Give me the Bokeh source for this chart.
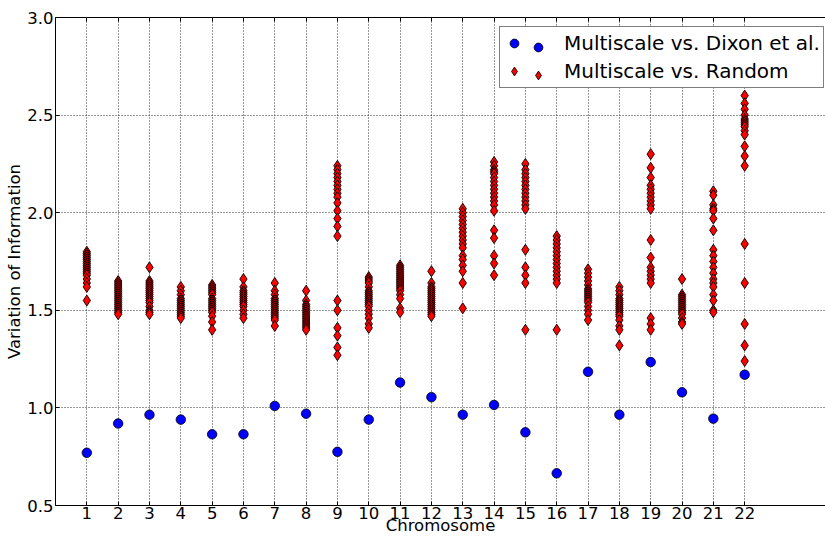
from bokeh.plotting import figure
from bokeh.models import (Range1d, FixedTicker, LinearAxis, Legend, LegendItem,
                          ColumnDataSource, PrintfTickFormatter)
from bokeh.embed import file_html
from bokeh.resources import INLINE

# ---------------- data ----------------
chromosomes = list(range(1, 23))
x_tick_labels = [str(c) for c in chromosomes]
y_ticks = [0.5, 1.0, 1.5, 2.0, 2.5, 3.0]

dixon_vi = [0.77, 0.92, 0.965, 0.94, 0.865, 0.865, 1.01, 0.97, 0.775, 0.94, 1.13,
            1.055, 0.965, 1.015, 0.875, 0.665, 1.185, 0.965, 1.235, 1.08, 0.945, 1.17]

random_chr1 = [1.80, 1.79, 1.78, 1.77, 1.76, 1.75, 1.74, 1.73, 1.72, 1.71, 1.70, 1.69, 1.68, 1.66, 1.64, 1.62, 1.55]
random_chr2 = [1.65, 1.64, 1.63, 1.62, 1.61, 1.60, 1.59, 1.58, 1.57, 1.56, 1.55, 1.54, 1.53, 1.52, 1.51, 1.50, 1.49, 1.48]
random_chr3 = [1.72, 1.65, 1.64, 1.63, 1.62, 1.61, 1.60, 1.59, 1.58, 1.57, 1.56, 1.55, 1.54, 1.52, 1.50, 1.49, 1.48]
random_chr4 = [1.62, 1.60, 1.58, 1.56, 1.55, 1.54, 1.53, 1.52, 1.51, 1.50, 1.49, 1.48, 1.47, 1.46]
random_chr5 = [1.63, 1.62, 1.61, 1.60, 1.59, 1.58, 1.56, 1.55, 1.54, 1.53, 1.52, 1.51, 1.50, 1.49, 1.47, 1.44, 1.40]
random_chr6 = [1.66, 1.62, 1.60, 1.59, 1.58, 1.57, 1.56, 1.55, 1.54, 1.53, 1.52, 1.50, 1.48, 1.46]
random_chr7 = [1.64, 1.60, 1.58, 1.56, 1.55, 1.54, 1.53, 1.52, 1.51, 1.50, 1.49, 1.48, 1.47, 1.46, 1.45, 1.42]
random_chr8 = [1.60, 1.55, 1.53, 1.52, 1.51, 1.50, 1.49, 1.48, 1.47, 1.46, 1.45, 1.44, 1.43, 1.42, 1.41, 1.40]
random_chr9 = [2.24, 2.22, 2.20, 2.18, 2.16, 2.14, 2.12, 2.10, 2.08, 2.05, 2.01, 1.97, 1.93, 1.88,
               1.55, 1.50, 1.41, 1.37, 1.31, 1.27]
random_chr10 = [1.67, 1.66, 1.65, 1.64, 1.62, 1.60, 1.59, 1.58, 1.57, 1.56, 1.55, 1.54, 1.53, 1.52, 1.50, 1.48, 1.46, 1.43, 1.41]
random_chr11 = [1.73, 1.72, 1.71, 1.70, 1.69, 1.68, 1.67, 1.66, 1.65, 1.64, 1.63, 1.62, 1.61, 1.60, 1.58, 1.56, 1.51, 1.49]
random_chr12 = [1.70, 1.64, 1.62, 1.61, 1.60, 1.59, 1.58, 1.57, 1.56, 1.55, 1.54, 1.53, 1.52, 1.51, 1.50, 1.49, 1.48, 1.47]
random_chr13 = [2.02, 2.00, 1.98, 1.96, 1.94, 1.92, 1.90, 1.88, 1.86, 1.84, 1.82, 1.78, 1.76, 1.73, 1.70, 1.64, 1.51]
random_chr14 = [2.26, 2.24, 2.22, 2.21, 2.20, 2.18, 2.16, 2.14, 2.12, 2.10, 2.08, 2.06, 2.04, 2.01, 1.91, 1.87, 1.78, 1.74, 1.68]
random_chr15 = [2.25, 2.22, 2.20, 2.18, 2.16, 2.14, 2.12, 2.10, 2.08, 2.06, 2.04, 2.02, 1.81, 1.72, 1.68, 1.64, 1.40]
random_chr16 = [1.88, 1.86, 1.84, 1.82, 1.80, 1.78, 1.76, 1.74, 1.72, 1.70, 1.68, 1.66, 1.64, 1.40]
random_chr17 = [1.71, 1.69, 1.67, 1.65, 1.63, 1.61, 1.60, 1.59, 1.58, 1.57, 1.56, 1.55, 1.54, 1.52, 1.50, 1.48, 1.45]
random_chr18 = [1.62, 1.60, 1.58, 1.56, 1.55, 1.54, 1.53, 1.52, 1.51, 1.50, 1.49, 1.48, 1.47, 1.45, 1.42, 1.40, 1.32]
random_chr19 = [2.30, 2.23, 2.18, 2.14, 2.12, 2.10, 2.08, 2.06, 2.04, 2.02, 1.86, 1.77, 1.72, 1.70, 1.68, 1.66, 1.64, 1.46, 1.43, 1.40]
random_chr20 = [1.66, 1.58, 1.57, 1.56, 1.55, 1.54, 1.53, 1.52, 1.51, 1.50, 1.49, 1.48, 1.46, 1.44, 1.43]
random_chr21 = [2.11, 2.09, 2.04, 2.02, 2.01, 1.97, 1.91, 1.81, 1.78, 1.75, 1.72, 1.69, 1.66, 1.64, 1.62, 1.58, 1.55, 1.50, 1.49]
random_chr22 = [2.60, 2.56, 2.53, 2.50, 2.48, 2.47, 2.46, 2.45, 2.44, 2.42, 2.40, 2.34, 2.29, 2.24, 1.84, 1.64, 1.43, 1.32, 1.24]

random_vi = [random_chr1, random_chr2, random_chr3, random_chr4, random_chr5, random_chr6,
             random_chr7, random_chr8, random_chr9, random_chr10, random_chr11, random_chr12,
             random_chr13, random_chr14, random_chr15, random_chr16, random_chr17, random_chr18,
             random_chr19, random_chr20, random_chr21, random_chr22]

rand_x, rand_y = [], []
for c, vals in zip(chromosomes, random_vi):
    rand_x.extend([c] * len(vals))
    rand_y.extend(vals)

FONT = "DejaVu Sans"

# ---------------- figure ----------------
p = figure(width=825, height=537, output_backend="svg", toolbar_location=None,
           x_range=Range1d(0, 24.58), y_range=Range1d(0.5, 3.0),
           min_border_left=55, min_border_right=0, min_border_top=17, min_border_bottom=32)
p.outline_line_color = None
p.background_fill_color = "white"
p.border_fill_color = "white"

# axes
for ax in (p.xaxis[0], p.yaxis[0]):
    ax.axis_line_color = "black"
    ax.axis_line_width = 1
    ax.major_tick_in = 4
    ax.major_tick_out = 0
    ax.minor_tick_line_color = None
    ax.major_label_text_font = FONT
    ax.major_label_text_font_size = "16.5px"
    ax.major_label_text_color = "black"
    ax.axis_label_text_font = FONT
    ax.axis_label_text_font_size = "16.5px"
    ax.axis_label_text_font_style = "normal"
    ax.axis_label_text_color = "black"

p.xaxis.ticker = FixedTicker(ticks=chromosomes)
p.xaxis.major_label_overrides = {c: lab for c, lab in zip(chromosomes, x_tick_labels)}
p.xaxis.major_label_standoff = 1
p.xaxis.axis_label = "Chromosome"
p.xaxis.axis_label_standoff = -6
p.yaxis.ticker = FixedTicker(ticks=y_ticks)
p.yaxis.formatter = PrintfTickFormatter(format="%.1f")
p.yaxis.major_label_standoff = 2
p.yaxis.axis_label = "Variation of Information"
p.yaxis.axis_label_standoff = 0

top_axis = LinearAxis(ticker=FixedTicker(ticks=chromosomes), axis_line_color="black",
                      major_tick_in=4, major_tick_out=0, minor_tick_line_color=None,
                      major_label_overrides={c: "" for c in chromosomes},
                      major_label_standoff=0)
p.add_layout(top_axis, "above")

# grid
for g in (p.xgrid[0], p.ygrid[0]):
    g.grid_line_color = "black"
    g.grid_line_alpha = 0.8
    g.grid_line_dash = "1 2"
    g.grid_line_width = 1
p.xgrid.ticker = FixedTicker(ticks=chromosomes)
p.ygrid.ticker = FixedTicker(ticks=y_ticks)

# data glyphs
src_rand = ColumnDataSource(dict(x=rand_x, y=rand_y))
src_dixon = ColumnDataSource(dict(x=chromosomes, y=dixon_vi))

r_rand = p.scatter("x", "y", source=src_rand, marker="diamond", size=11,
                   fill_color="#ff0000", line_color="black", line_width=0.9)
r_dixon = p.scatter("x", "y", source=src_dixon, marker="circle", size=9.5,
                    fill_color="#0000ff", line_color="black", line_width=0.8)

# legend (two marker columns as in the original)
legend = Legend(items=[LegendItem(label="Multiscale vs. Dixon et al.", renderers=[r_dixon]),
                       LegendItem(label="Multiscale vs. Random", renderers=[r_rand])],
                location=(444, 417), orientation="vertical",
                glyph_width=22, glyph_height=26, spacing=2, padding=3, margin=0,
                label_standoff=39, label_text_font=FONT, label_text_font_size="20px",
                label_text_color="black", label_height=26,
                border_line_color="black", border_line_width=1,
                background_fill_color="white", background_fill_alpha=1.0)
p.add_layout(legend, "center")

legend2 = Legend(items=[LegendItem(label=" ", renderers=[r_dixon]),
                        LegendItem(label=" ", renderers=[r_rand])],
                 location=(472, 417), orientation="vertical",
                 glyph_width=22, glyph_height=26, spacing=2, padding=3, margin=0,
                 label_standoff=0, label_text_font=FONT, label_text_font_size="20px",
                 label_height=26,
                 border_line_color=None, background_fill_alpha=0.0)
p.add_layout(legend2, "center")

open("out.html", "w").write(file_html(p, INLINE))
